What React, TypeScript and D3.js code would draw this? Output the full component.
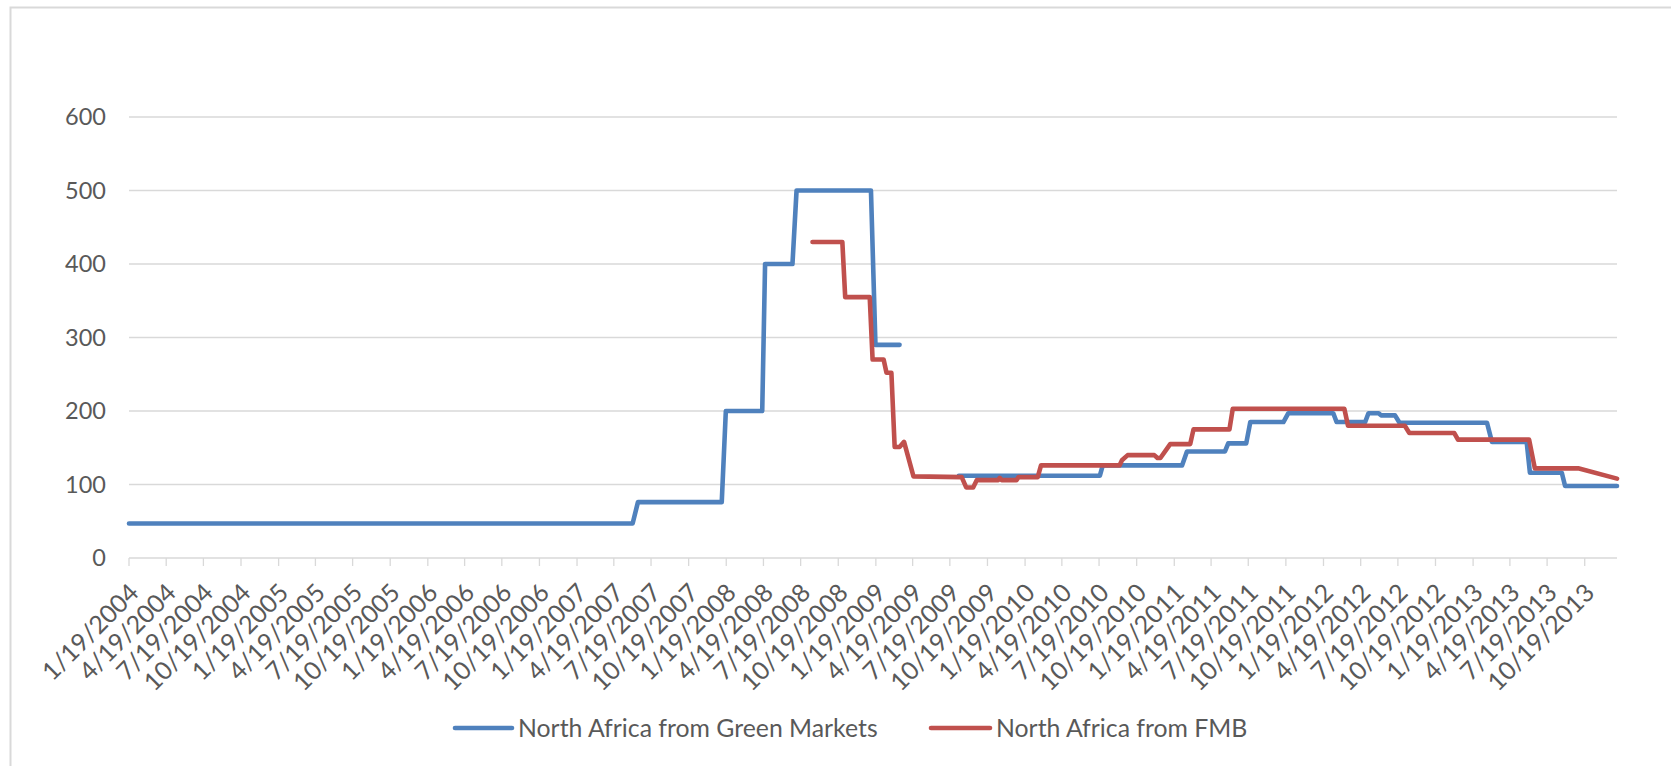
import React from "react";
import * as d3 from "d3";

const tickLabels = [
  "1/19/2004","4/19/2004","7/19/2004","10/19/2004",
  "1/19/2005","4/19/2005","7/19/2005","10/19/2005",
  "1/19/2006","4/19/2006","7/19/2006","10/19/2006",
  "1/19/2007","4/19/2007","7/19/2007","10/19/2007",
  "1/19/2008","4/19/2008","7/19/2008","10/19/2008",
  "1/19/2009","4/19/2009","7/19/2009","10/19/2009",
  "1/19/2010","4/19/2010","7/19/2010","10/19/2010",
  "1/19/2011","4/19/2011","7/19/2011","10/19/2011",
  "1/19/2012","4/19/2012","7/19/2012","10/19/2012",
  "1/19/2013","4/19/2013","7/19/2013","10/19/2013",
];

const yTicks = [0, 100, 200, 300, 400, 500, 600];

const greenDates = [
  "2004-01-19","2007-06-04","2007-06-17","2008-01-08","2008-01-18","2008-04-16","2008-04-23",
  "2008-06-29","2008-07-09","2009-01-07","2009-01-18","2009-03-18","2009-05-01",
  "2009-08-10","2010-07-21","2010-07-28","2011-02-07","2011-02-19","2011-05-23","2011-05-31",
  "2011-07-14","2011-07-24","2011-10-13","2011-10-25","2012-02-12","2012-02-20","2012-04-30",
  "2012-05-08","2012-06-02","2012-06-08","2012-07-12","2012-07-23","2013-02-22","2013-03-06",
  "2013-05-30","2013-06-07","2013-08-24","2013-09-01","2014-01-06",
];
const greenValues: (number | null)[] = [
  47, 47, 76, 76, 200, 200, 400,
  400, 500, 500, 290, 290, null,
  112, 112, 126, 126, 145, 145, 156,
  156, 185, 185, 197, 197, 185, 185,
  197, 197, 194, 194, 184, 184, 158,
  158, 116, 116, 98, 98,
];

const fmbDates = [
  "2008-08-17","2008-10-29","2008-11-05","2009-01-04","2009-01-11","2009-02-07","2009-02-14",
  "2009-02-26","2009-03-06","2009-03-18","2009-03-29","2009-04-21","2009-08-17","2009-08-28",
  "2009-09-14","2009-09-23","2009-11-14","2009-11-18","2009-11-23","2009-12-29","2010-01-03",
  "2010-02-19","2010-02-27","2010-09-07","2010-09-13","2010-09-27","2010-12-01","2010-12-09",
  "2010-12-16","2011-01-09","2011-02-27","2011-03-07","2011-06-03","2011-06-11","2012-03-10",
  "2012-03-19","2012-08-05","2012-08-16","2012-12-04","2012-12-13","2013-06-05","2013-06-19",
  "2013-10-03","2014-01-06",
];
const fmbValues = [
  430, 430, 355, 355, 270, 270, 252,
  252, 151, 151, 158, 111, 110, 96,
  96, 106, 106, 109, 106, 106, 110,
  110, 126, 126, 133, 140, 140, 136,
  136, 155, 155, 175, 175, 203, 203,
  180, 180, 170, 170, 161, 161, 122,
  122, 108,
];

const seriesNames = ["North Africa from Green Markets", "North Africa from FMB"];
const seriesColors = ["#4f81bd", "#c0504d"];

const W = 1671;
const H = 766;
const FONT = "Lato, 'Open Sans', sans-serif";
const TEXT = "#595959";
const GRID = "#d9d9d9";

export default function App() {
  const parseIso = d3.timeParse("%Y-%m-%d");
  const parseTick = d3.timeParse("%m/%d/%Y");
  const x = d3
    .scaleTime()
    .domain([parseIso("2004-01-19")!, parseIso("2014-01-06")!])
    .range([129, 1617]);
  const y = d3.scaleLinear().domain([0, 600]).range([558, 117]);

  type P = { d: Date; v: number | null };
  const green: P[] = greenDates.map((s, i) => ({ d: parseIso(s)!, v: greenValues[i] }));
  const fmb: P[] = fmbDates.map((s, i) => ({ d: parseIso(s)!, v: fmbValues[i] }));

  const line = d3
    .line<P>()
    .defined((p) => p.v !== null)
    .x((p) => x(p.d))
    .y((p) => y(p.v as number));

  const ticks = tickLabels.map((t) => ({ label: t, x: x(parseTick(t)!) }));

  return (
    <svg
      width={W}
      height={H}
      style={{ position: "absolute", left: 0, top: 0, background: "#fff" }}
      fontFamily={FONT}
    >
      <rect x={0} y={0} width={W} height={H} fill="#fff" />
      {/* chart border */}
      <path d={`M10.5,${H} V7.5 H${W}`} fill="none" stroke={GRID} strokeWidth={2} />

      {/* gridlines */}
      {yTicks.map((t) => (
        <line key={t} x1={129} x2={1617} y1={y(t)} y2={y(t)} stroke={GRID} strokeWidth={1.3} />
      ))}
      {/* y labels */}
      {yTicks.map((t) => (
        <text
          key={"l" + t}
          x={106}
          y={y(t)}
          dy="0.36em"
          textAnchor="end"
          fontSize={23.5}
          fill={TEXT}
        >
          {t}
        </text>
      ))}

      {/* x ticks */}
      {ticks.map((t) => (
        <line key={"t" + t.label} x1={t.x} x2={t.x} y1={558} y2={566} stroke={GRID} strokeWidth={1.3} />
      ))}
      {ticks.map((t) => (
        <text
          key={"x" + t.label}
          transform={`translate(${t.x + 5},${588}) rotate(-45)`}
          textAnchor="end"
          dy="0.36em"
          fontSize={25}
          fill={TEXT}
        >
          {t.label}
        </text>
      ))}

      {/* series */}
      <path
        d={line(green) || ""}
        fill="none"
        stroke={seriesColors[0]}
        strokeWidth={4.6}
        strokeLinejoin="round"
        strokeLinecap="round"
      />
      <path
        d={line(fmb) || ""}
        fill="none"
        stroke={seriesColors[1]}
        strokeWidth={4.6}
        strokeLinejoin="round"
        strokeLinecap="round"
      />

      {/* legend */}
      <line x1={455} x2={512} y1={728} y2={728} stroke={seriesColors[0]} strokeWidth={4.6} strokeLinecap="round" />
      <text x={518} y={728} dy="0.36em" fontSize={24.8} fill={TEXT}>
        {seriesNames[0]}
      </text>
      <line x1={931} x2={990} y1={728} y2={728} stroke={seriesColors[1]} strokeWidth={4.6} strokeLinecap="round" />
      <text x={996} y={728} dy="0.36em" fontSize={24.8} fill={TEXT}>
        {seriesNames[1]}
      </text>
    </svg>
  );
}
